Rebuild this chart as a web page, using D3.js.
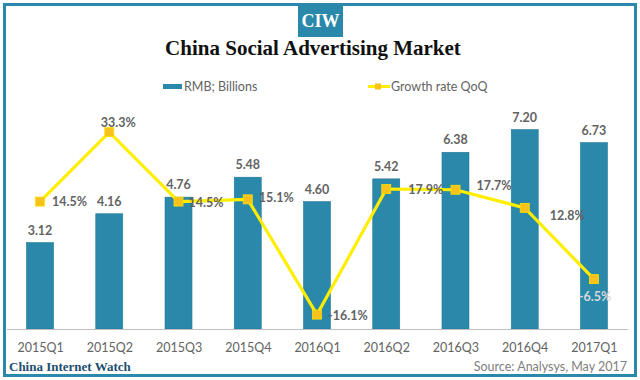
<!DOCTYPE html>
<html><head><meta charset="utf-8">
<script src="https://cdn.jsdelivr.net/npm/d3@7"></script>
<style>html,body{margin:0;padding:0;background:#fff;}svg{display:block;}</style>
</head><body>
<svg id="c" width="640" height="380"></svg>
<script>
const categories = ["2015Q1","2015Q2","2015Q3","2015Q4","2016Q1","2016Q2","2016Q3","2016Q4","2017Q1"];
const rmbValues = [3.12, 4.16, 4.76, 5.48, 4.60, 5.42, 6.38, 7.20, 6.73];
const growthValues = [14.5, 33.3, 14.5, 15.1, -16.1, 17.9, 17.7, 12.8, -6.5];
const seriesNames = ["RMB; Billions", "Growth rate QoQ"];
const titleText = "China Social Advertising Market";
const sourceText = "Source: Analysys, May 2017";
const brandText = "China Internet Watch";

// label placement relative to each marker [dx, dy, anchor]
const growthLabelPos = [[12,4,"start"],[9,-5,"middle"],[10,5,"start"],[11,3,"start"],[11,5,"start"],[22,5,"start"],[21,0,"start"],[25,12,"start"],[1,22,"middle"]];

const svg = d3.select("#c");
const blue = "#2a88aa";
const grey = "#636363";
const sans = "Lato, 'Open Sans', sans-serif";
const serif = "'Liberation Serif', 'DejaVu Serif', serif";

// frame
svg.append("rect").attr("x",4.5).attr("y",4.5).attr("width",631).attr("height",371)
  .attr("fill","none").attr("stroke",blue).attr("stroke-width",3);

// logo
svg.append("rect").attr("x",298).attr("y",4).attr("width",45).attr("height",33).attr("fill",blue);
svg.append("text").attr("x",320.5).attr("y",27).attr("text-anchor","middle")
  .attr("font-family",serif).attr("font-weight","bold").attr("font-size",18).attr("fill","#fff").text("CIW");

// title
svg.append("text").attr("x",313).attr("y",55).attr("text-anchor","middle")
  .attr("font-family",serif).attr("font-weight","bold").attr("font-size",21).attr("fill","#111").text(titleText);

const x = d3.scalePoint().domain(categories).range([5.4, 628.6]).padding(0.5);
const y = d3.scaleLinear().domain([0, 8]).range([329, 107.4]);
const y2 = d3.scaleLinear().domain([-20, 40]).range([329, 107.4]);
const bw = 27;

// legend
svg.append("rect").attr("x",163).attr("y",84).attr("width",19).attr("height",5).attr("fill",blue);
svg.append("text").attr("x",184).attr("y",91).attr("font-family",sans).attr("font-size",12.5).attr("fill",grey).text(seriesNames[0]);
svg.append("line").attr("x1",368).attr("x2",390).attr("y1",86.5).attr("y2",86.5).attr("stroke","#ffee00").attr("stroke-width",3);
svg.append("rect").attr("x",375).attr("y",83.5).attr("width",6).attr("height",6).attr("fill","#f8c21c");
svg.append("text").attr("x",391).attr("y",91).attr("font-family",sans).attr("font-size",12.5).attr("fill",grey).text(seriesNames[1]);

// bars
svg.append("g").selectAll("rect").data(rmbValues).join("rect")
  .attr("x",(d,i)=>x(categories[i])-bw/2).attr("width",bw)
  .attr("y",d=>y(d)).attr("height",d=>y(0)-y(d))
  .attr("fill",blue).attr("stroke","#237a99").attr("stroke-width",0.6);

svg.append("g").selectAll("text").data(rmbValues).join("text")
  .attr("x",(d,i)=>x(categories[i])).attr("y",d=>y(d)-8)
  .attr("text-anchor","middle").attr("font-family",sans).attr("font-weight","bold")
  .attr("font-size",12.5).attr("fill",grey).text(d=>d.toFixed(2));

// axis
const xAxis = d3.axisBottom(x).tickSize(0).tickPadding(14);
const ax = svg.append("g").attr("transform","translate(0,329)").call(xAxis);
ax.select(".domain").attr("stroke","#bfbfbf").attr("stroke-width",1).attr("d","M7,0.5H628");
ax.selectAll("text").attr("font-family",sans).attr("font-size",12.5).attr("fill",grey);

// line
const line = d3.line().x((d,i)=>x(categories[i])).y(d=>y2(d));
svg.append("path").datum(growthValues).attr("d",line).attr("fill","none")
  .attr("stroke","#ffee00").attr("stroke-width",3.2).attr("stroke-linejoin","miter");
svg.append("g").selectAll("rect").data(growthValues).join("rect")
  .attr("x",(d,i)=>x(categories[i])-4.5).attr("y",d=>y2(d)-4.5).attr("width",9).attr("height",9)
  .attr("fill","#f8c21c").attr("stroke","#ffe000").attr("stroke-width",0.8);

svg.append("g").selectAll("text").data(growthValues).join("text")
  .attr("x",(d,i)=>x(categories[i])+growthLabelPos[i][0])
  .attr("y",(d,i)=>y2(d)+growthLabelPos[i][1])
  .attr("text-anchor",(d,i)=>growthLabelPos[i][2])
  .attr("font-family",sans).attr("font-weight","bold").attr("font-size",12.5)
  .attr("fill",(d,i)=>i===growthValues.length-1?"#d8d8d8":grey)
  .text(d=>d.toFixed(1)+"%");

// footer
svg.append("text").attr("x",9).attr("y",371).attr("font-family",serif).attr("font-weight","bold")
  .attr("font-size",13).attr("fill","#1d4f70").text(brandText);
svg.append("text").attr("x",627).attr("y",371).attr("text-anchor","end").attr("font-family",sans)
  .attr("font-size",12.5).attr("fill","#808080").text(sourceText);
</script>
</body></html>
